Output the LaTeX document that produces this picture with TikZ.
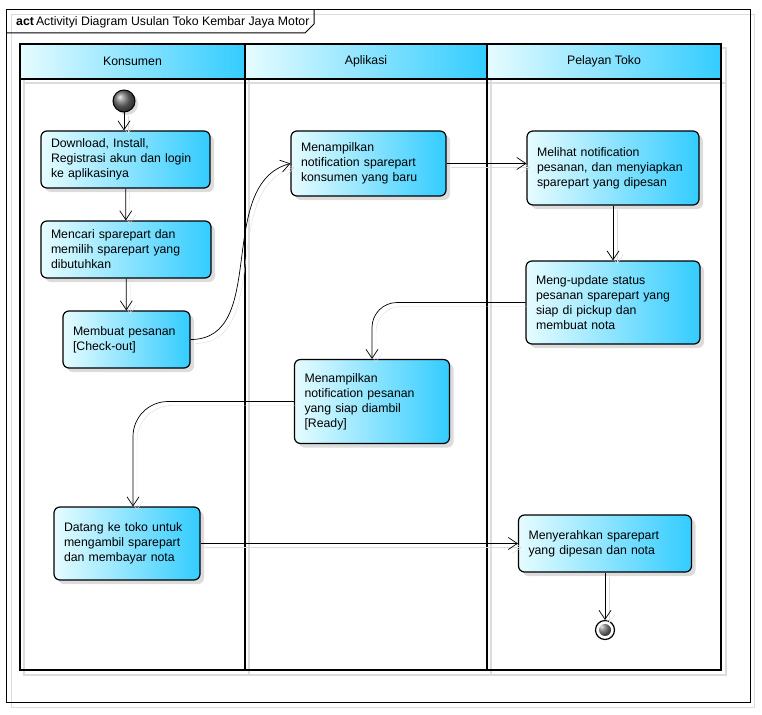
\documentclass[tikz,border=0pt]{standalone}
\usepackage{fontspec}
\setmainfont{Liberation Sans}
\usetikzlibrary{arrows.meta,shadows}

\definecolor{lanelight}{HTML}{E6FCFF}
\definecolor{laneblue}{HTML}{33CCFF}
\definecolor{shadowgray}{HTML}{DCDCDC}

\tikzset{
  lanehead/.style={draw, line width=2pt, minimum height=35pt, inner sep=0pt,
    left color=lanelight, right color=laneblue},
  activity/.style={draw, line width=1.2pt, rounded corners=6pt, align=left,
    inner xsep=10pt, inner ysep=4pt, left color=lanelight, right color=laneblue,
    drop shadow={shadow xshift=4pt, shadow yshift=-4pt, fill=shadowgray, opacity=1}},
  initial/.style={circle, draw, line width=1pt, ball color=black!55,
    minimum size=22pt, inner sep=0pt,
    drop shadow={shadow xshift=3pt, shadow yshift=-3pt, fill=shadowgray, opacity=1}},
  final/.style={circle, draw, line width=1.2pt, fill=white, minimum size=19pt,
    inner sep=0pt,
    path picture={\shade[ball color=black!60] (path picture bounding box.center) circle (6pt);}},
  flow/.style={line width=0.7pt, -{Straight Barb[length=9pt,width=12pt]},
    preaction={draw=shadowgray, transform canvas={shift={(4pt,-4pt)}}}}
}

\begin{document}
\begin{tikzpicture}[x=1pt, y=-1pt, font=\fontsize{12.3pt}{15pt}\selectfont]
\useasboundingbox (0,0) rectangle (762,714);
% frame
\draw[shadowgray] (11,14) rectangle (754,707);
\draw[line width=1pt] (6,10) rectangle (750,702);
\draw[line width=1pt] (6,33) -- (305,33) -- (314,24) -- (314,10);
\node[anchor=west, inner sep=0pt] (title) at (16,22) {\textbf{act}\,Activityi Diagram Usulan Toko Kembar Jaya Motor};

% swimlanes
\draw[shadowgray, line width=2pt] (24,48) rectangle (726,675)
  (249,48) -- (249,675) (491,48) -- (491,675) (24,83) -- (726,83);
\node[lanehead, minimum width=225pt] (konsumen) at (132.5,61.5) {Konsumen};
\node[lanehead, minimum width=242pt] (aplikasi) at (366,61.5) {Aplikasi};
\node[lanehead, minimum width=234pt] (pelayan) at (604,61.5) {Pelayan Toko};
\draw[line width=2pt] (20,79) rectangle (721,670);
\draw[line width=2pt] (245,79) -- (245,670);
\draw[line width=2pt] (487,79) -- (487,670);

% activities
\node[initial] (start) at (124,101) {};
\node[activity, text width=149pt, minimum height=57pt] (download) at (125.5,159.5)
  {Download, Install,\\Registrasi akun dan login\\ke aplikasinya};
\node[activity, text width=150pt, minimum height=57pt] (cari) at (126,249.5)
  {Mencari sparepart dan\\memilih sparepart yang\\dibutuhkan};
\node[activity, text width=107pt, minimum height=57pt] (checkout) at (126.5,339.5)
  {Membuat pesanan\\{[Check-out]}};
\node[activity, text width=135pt, minimum height=65pt] (notifbaru) at (368.5,163.5)
  {Menampilkan\\notification sparepart\\konsumen yang baru};
\node[activity, text width=152pt, minimum height=74pt] (lihat) at (613,168)
  {Melihat notification\\pesanan, dan menyiapkan\\sparepart yang dipesan};
\node[activity, text width=154pt, minimum height=83pt] (update) at (613,302.5)
  {Meng-update status\\pesanan sparepart yang\\siap di pickup dan\\membuat nota};
\node[activity, text width=135pt, minimum height=84pt] (siap) at (372,401.5)
  {Menampilkan\\notification pesanan\\yang siap diambil\\{[Ready]}};
\node[activity, text width=126pt, minimum height=73pt] (datang) at (127,543.5)
  {Datang ke toko untuk\\mengambil sparepart\\dan membayar nota};
\node[activity, text width=153pt, minimum height=57pt] (serah) at (605,543.5)
  {Menyerahkan sparepart\\yang dipesan dan nota};
\node[final] (finish) at (605,630) {};

% flows
\draw[flow] (start) -- (start |- download.north);
\draw[flow] (download) -- (cari);
\draw[flow] (cari) -- (checkout);
\draw[flow] (checkout.east) to[out=0, in=195] (notifbaru.west);
\draw[flow] (notifbaru.east) -- (notifbaru.east -| lihat.west);
\draw[flow] (lihat) -- (update);
\draw[flow, rounded corners=25pt] (update.west) -| (siap.north);
\draw[flow, rounded corners=35pt] (siap.west) -| ([xshift=6pt]datang.north);
\draw[flow] (datang) -- (serah);
\draw[flow] (serah) -- (finish);
\end{tikzpicture}
\end{document}
